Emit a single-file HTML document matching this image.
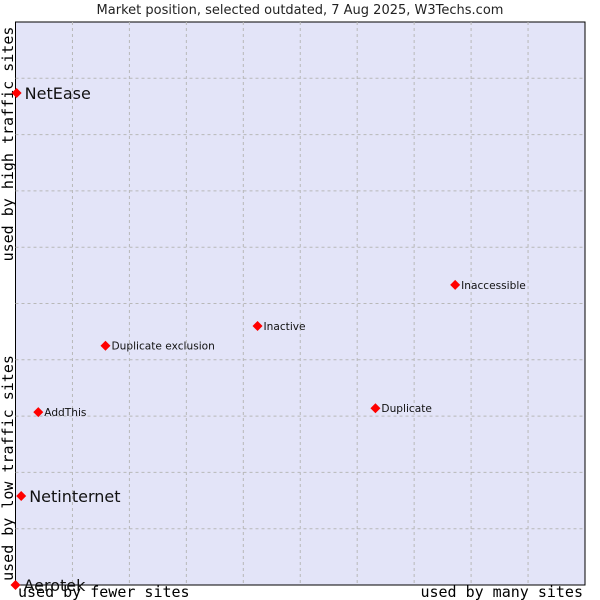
<!DOCTYPE html>
<html><head><meta charset="utf-8"><style>
body{margin:0;background:#fff;}
svg{display:block;}
</style></head><body>
<svg id="chart" width="600" height="600" xmlns="http://www.w3.org/2000/svg">
<text x="300" y="14" text-anchor="middle" font-family="DejaVu Sans, sans-serif" font-size="13" fill="#222">Market position, selected outdated, 7 Aug 2025, W3Techs.com</text>
<rect x="15.5" y="22" width="569.5" height="563" fill="#e3e4f8" stroke="#000" stroke-width="1"/>
<g id="grid"></g>
<text transform="translate(13,144) rotate(-90)" text-anchor="middle" font-family="DejaVu Sans Mono, monospace" font-size="15" fill="#000">used by high traffic sites</text>
<text transform="translate(13,468) rotate(-90)" text-anchor="middle" font-family="DejaVu Sans Mono, monospace" font-size="15" fill="#000">used by low traffic sites</text>
<text x="18" y="597" font-family="DejaVu Sans Mono, monospace" font-size="15" fill="#000">used by fewer sites</text>
<text x="583" y="597" text-anchor="end" font-family="DejaVu Sans Mono, monospace" font-size="15" fill="#000">used by many sites</text>
<g id="points"></g>
</svg>
<script>
const names = ["NetEase","Netinternet","Aerotek","AddThis","Duplicate exclusion","Inactive","Inaccessible","Duplicate"];
const xValues = [0.2,1,0,4,15.8,42.5,77.2,63.2];
const yValues = [87.4,15.8,0,30.7,42.5,46,53.3,31.4];
const bigLabel = [true,true,true,false,false,false,false,false];
const NS="http://www.w3.org/2000/svg";
const x0=15.5,x1=585,y0=585,y1=22;
function sx(v){return x0+(x1-x0)*v/100;}
function sy(v){return y0-(y0-y1)*v/100;}
const grid=document.getElementById('grid');
for(let i=1;i<10;i++){
  const lv=document.createElementNS(NS,'line');
  lv.setAttribute('x1',sx(i*10));lv.setAttribute('x2',sx(i*10));
  lv.setAttribute('y1',y1);lv.setAttribute('y2',y0);
  lv.setAttribute('stroke','#b8b8b8');lv.setAttribute('stroke-dasharray','3,3');
  
  
  grid.appendChild(lv);
  const lh=document.createElementNS(NS,'line');
  lh.setAttribute('y1',sy(i*10));lh.setAttribute('y2',sy(i*10));
  lh.setAttribute('x1',x0);lh.setAttribute('x2',x1);
  lh.setAttribute('stroke','#b8b8b8');lh.setAttribute('stroke-dasharray','3,3');
  
  
  grid.appendChild(lh);
}
const pts=document.getElementById('points');
names.forEach((n,i)=>{
  const cx=sx(xValues[i]),cy=sy(yValues[i]);
  const d=document.createElementNS(NS,'path');
  d.setAttribute('d',`M${cx-5},${cy} L${cx},${cy-5} L${cx+5},${cy} L${cx},${cy+5} Z`);
  d.setAttribute('fill','#f00');
  
  
  pts.appendChild(d);
  const t=document.createElementNS(NS,'text');
  t.setAttribute('x',cx+(bigLabel[i]?8:6));
  t.setAttribute('y',cy+(bigLabel[i]?6:4));
  t.setAttribute('font-family','DejaVu Sans, sans-serif');
  t.setAttribute('font-size',bigLabel[i]?'16':'10.6');
  t.setAttribute('fill','#111');
  t.textContent=n;
  
  
  pts.appendChild(t);
});
</script>
</body></html>
